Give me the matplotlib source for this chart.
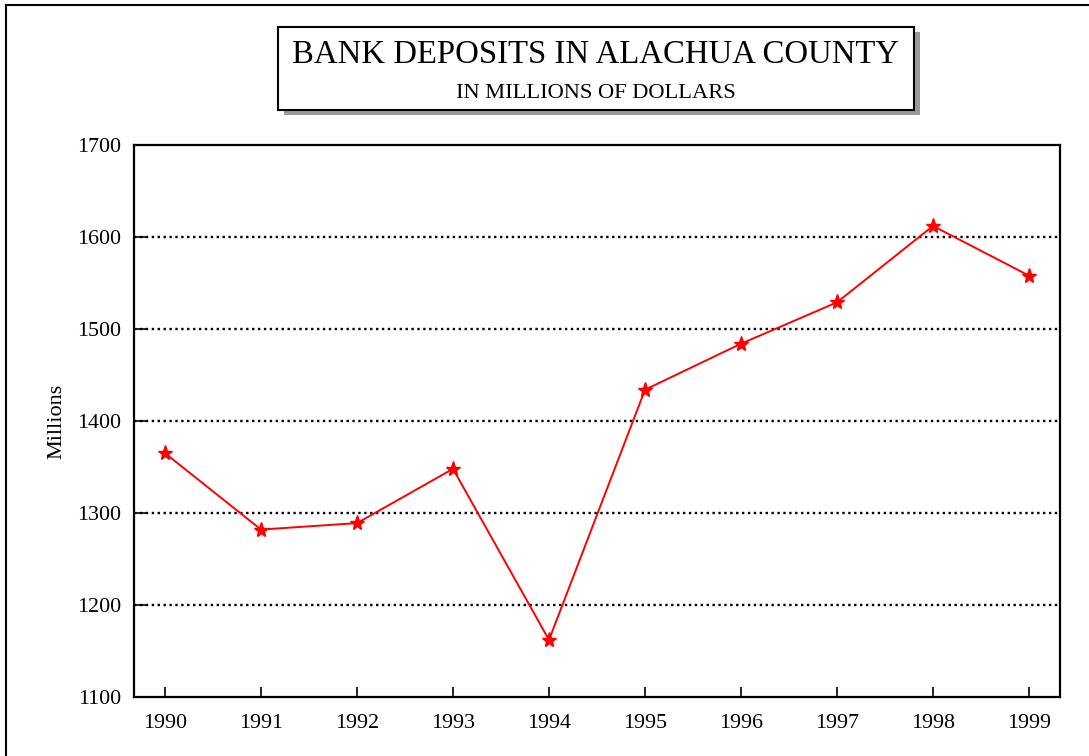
import matplotlib
matplotlib.use('Agg')

import matplotlib.pyplot as plt
from matplotlib.patches import Rectangle
from matplotlib.lines import Line2D

years = [1990, 1991, 1992, 1993, 1994, 1995, 1996, 1997, 1998, 1999]
deposits = [1365, 1282, 1289, 1348, 1162, 1434, 1484, 1529, 1612, 1558]
y_ticks = [1100, 1200, 1300, 1400, 1500, 1600, 1700]

plt.rcParams['font.family'] = ['Liberation Serif', 'DejaVu Serif']

fig = plt.figure(figsize=(10.89, 7.56), dpi=100)
W, H = 1089, 756

# outer frame (left and top edges only visible)
fig.add_artist(Line2D([6 / W, 6 / W], [0, 1 - 5 / H], transform=fig.transFigure,
                      color='black', linewidth=1.5))
fig.add_artist(Line2D([6 / W, 1], [1 - 5 / H, 1 - 5 / H], transform=fig.transFigure,
                      color='black', linewidth=1.5))

# title box with drop shadow
bx0, bx1, by0, by1 = 278, 914, 27, 110
fig.add_artist(Rectangle(((bx0 + 6) / W, 1 - (by1 + 5) / H), (bx1 - bx0) / W, (by1 - by0) / H,
                         transform=fig.transFigure, facecolor='#999999', edgecolor='none'))
fig.add_artist(Rectangle((bx0 / W, 1 - by1 / H), (bx1 - bx0) / W, (by1 - by0) / H,
                         transform=fig.transFigure, facecolor='white', edgecolor='black',
                         linewidth=1.5))
fig.text((bx0 + bx1) / 2 / W, 1 - 55 / H, 'BANK DEPOSITS IN ALACHUA COUNTY',
         ha='center', va='center', fontsize=23.6)
fig.text((bx0 + bx1) / 2 / W, 1 - 93 / H, 'IN MILLIONS OF DOLLARS',
         ha='center', va='center', fontsize=16.2)

ax = fig.add_axes([134 / W, 1 - 697 / H, (1060 - 134) / W, (697 - 145) / H])

ax.plot(years, deposits, color='red', linewidth=1.4, marker='*', markersize=11,
        markerfacecolor='red', markeredgecolor='red', zorder=3)

for v in y_ticks[1:-1]:
    ax.axhline(v, color='black', linestyle=(0, (1, 1.5)), linewidth=1.7, zorder=1)

ax.set_ylim(1100, 1700)
ax.set_xlim(1990 - 31 / 96, 1999 + 31 / 96)
ax.set_yticks(y_ticks)
ax.set_xticks(years)
ax.set_xticklabels([str(y) for y in years])
ax.tick_params(axis='y', direction='in', length=10, width=1.2, labelsize=15.8, pad=9)
ax.tick_params(axis='x', direction='in', length=7, width=1.2, labelsize=15.8, pad=12)
for s in ax.spines.values():
    s.set_linewidth(1.6)

ax.set_ylabel('Millions', fontsize=16, labelpad=8)

fig.savefig('out.png', dpi=100)
